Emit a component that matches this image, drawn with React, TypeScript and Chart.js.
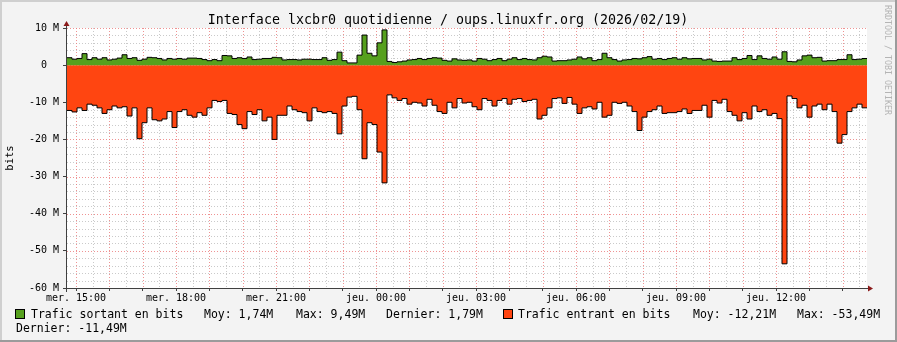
import React, { useEffect, useRef } from 'react';
import { Chart, registerables } from 'chart.js';

Chart.register(...registerables);

// Outgoing traffic (M bits), one value per 9-minute step starting at mer. 14:44
const outgoing: number[] = [
  2.0, 1.6, 1.8, 3.1, 1.5, 2.0, 1.6, 2.0, 1.4, 1.6, 1.9, 2.8, 1.8, 2.0, 1.3, 1.6,
  2.1, 2.0, 1.8, 1.4, 1.8, 1.6, 1.8, 1.6, 1.9, 1.9, 1.8, 1.5, 1.2, 1.5, 1.2, 2.6,
  2.5, 1.8, 2.0, 1.8, 2.2, 1.5, 1.6, 1.8, 1.8, 2.1, 2.0, 1.4, 1.5, 1.5, 1.4, 1.6,
  1.6, 1.5, 1.5, 2.0, 1.3, 1.5, 3.5, 1.2, 0.6, 0.6, 2.7, 8.1, 3.2, 2.5, 6.0, 9.49,
  1.0, 0.7, 0.9, 1.1, 1.4, 1.5, 1.8, 1.5, 1.8, 2.0, 1.9, 1.3, 1.1, 1.7, 1.4, 1.3,
  1.4, 1.1, 1.8, 1.6, 1.2, 1.5, 1.8, 1.2, 1.6, 2.0, 1.5, 1.8, 1.5, 1.4, 2.0, 2.4,
  2.2, 1.1, 1.2, 1.2, 1.4, 1.6, 2.2, 1.7, 2.0, 1.2, 1.5, 3.2, 2.0, 1.5, 1.1, 1.4,
  1.5, 1.8, 1.7, 2.0, 2.3, 1.6, 1.8, 1.5, 1.8, 2.0, 1.6, 2.0, 1.7, 1.8, 1.8, 1.4,
  1.6, 1.1, 1.0, 1.1, 1.1, 2.0, 1.5, 1.8, 2.6, 1.5, 2.5, 1.8, 1.6, 2.2, 1.6, 3.6,
  1.0, 0.9, 1.4, 2.5, 2.7, 2.0, 2.1, 1.1, 1.2, 1.2, 1.5, 1.5, 2.8, 1.5, 1.6, 1.79,
];

// Incoming traffic (M bits, drawn negative)
const incoming: number[] = [
  -12.2, -12.6, -11.5, -12.2, -10.5, -10.8, -11.5, -13.0, -12.0, -11.0, -11.5, -11.2, -13.7, -11.5, -19.8, -15.5,
  -11.5, -14.7, -15.0, -14.5, -12.5, -16.8, -12.5, -12.0, -13.5, -14.0, -12.8, -13.5, -11.5, -9.5, -9.8, -9.5,
  -13.0, -13.3, -16.0, -17.1, -12.5, -13.3, -12.0, -15.0, -14.0, -20.0, -13.5, -13.5, -11.0, -12.0, -12.5, -12.8,
  -15.0, -11.5, -12.5, -12.8, -12.5, -13.0, -18.5, -11.0, -8.6, -8.4, -12.0, -25.2, -15.5, -16.0, -23.4, -31.7,
  -8.0, -8.8, -9.5, -9.0, -10.5, -10.0, -10.2, -11.0, -9.2, -10.8, -12.5, -13.0, -10.0, -11.5, -9.0, -10.2,
  -10.0, -11.2, -12.0, -9.0, -9.5, -11.0, -9.5, -9.0, -10.5, -9.2, -9.0, -9.8, -9.5, -9.2, -14.5, -13.5,
  -11.5, -9.0, -8.8, -10.3, -8.7, -10.5, -13.0, -11.5, -11.2, -11.8, -10.0, -14.0, -13.5, -10.0, -10.3, -10.0,
  -11.0, -12.5, -17.6, -14.0, -12.5, -12.0, -11.0, -13.0, -12.8, -12.8, -12.5, -11.8, -13.0, -12.2, -12.2, -10.8,
  -14.0, -9.5, -10.2, -9.2, -12.5, -13.5, -15.0, -12.8, -14.5, -11.0, -12.5, -12.0, -13.5, -13.0, -14.4, -53.49,
  -8.3, -9.0, -11.5, -10.8, -14.0, -11.0, -10.5, -12.0, -10.5, -12.5, -21.0, -18.7, -12.5, -11.5, -10.5, -11.49,
];

const xTickLabels = ['mer. 15:00', 'mer. 18:00', 'mer. 21:00', 'jeu. 00:00', 'jeu. 03:00', 'jeu. 06:00', 'jeu. 09:00', 'jeu. 12:00'];
const yTickValues = [10, 0, -10, -20, -30, -40, -50, -60];
const START_HOUR = -0.27; // hours relative to mer. 15:00
const STEP_HOURS = 0.15;

const TITLE = 'Interface lxcbr0 quotidienne / oups.linuxfr.org (2026/02/19)';
const Y_TITLE = 'bits';
const WATERMARK = 'RRDTOOL / TOBI OETIKER';
const outLegend = ['Trafic sortant en bits', 'Moy: 1,74M', 'Max: 9,49M', 'Dernier: 1,79M'];
const inLegend = ['Trafic entrant en bits', 'Moy: -12,21M', 'Max: -53,49M', 'Dernier: -11,49M'];

const GREEN = '#56a01e';
const RED = '#ff4511';
const MONO = '"DejaVu Sans Mono", monospace';

function toPoints(arr: number[]) {
  const pts = arr.map((v, i) => ({ x: START_HOUR + i * STEP_HOURS, y: v }));
  pts.push({ x: START_HOUR + arr.length * STEP_HOURS, y: arr[arr.length - 1] });
  return pts;
}

const rrdPlugin = {
  id: 'rrdLook',
  beforeDraw(chart: any) {
    const { ctx, width, height, chartArea: a } = chart;
    ctx.save();
    ctx.fillStyle = '#f3f3f3';
    ctx.fillRect(0, 0, width, height);
    ctx.fillStyle = '#cfcfcf';
    ctx.fillRect(0, 0, width, 2);
    ctx.fillRect(0, 0, 2, height);
    ctx.fillStyle = '#9b9b9b';
    ctx.fillRect(0, height - 2, width, 2);
    ctx.fillRect(width - 2, 0, 2, height);
    ctx.fillStyle = '#ffffff';
    ctx.fillRect(a.left, a.top, a.right - a.left, a.bottom - a.top);
    ctx.restore();
  },
  beforeDatasetsDraw(chart: any) {
    const { ctx, chartArea: a, scales } = chart;
    const xs = scales.x;
    const ys = scales.y;
    ctx.save();
    ctx.lineWidth = 1;
    ctx.setLineDash([1, 2]);
    for (let v = -60; v <= 10; v += 2) {
      const y = Math.round(ys.getPixelForValue(v)) + 0.5;
      ctx.strokeStyle = v % 10 === 0 ? 'rgba(235,120,120,0.8)' : 'rgba(180,180,180,0.7)';
      ctx.beginPath();
      ctx.moveTo(a.left, y);
      ctx.lineTo(a.right, y);
      ctx.stroke();
    }
    for (let h = 0; h <= 24; h += 0.5) {
      const px = xs.getPixelForValue(h);
      if (px < a.left || px > a.right) continue;
      const x = Math.round(px) + 0.5;
      ctx.strokeStyle = h % 1 === 0 ? 'rgba(235,120,120,0.8)' : 'rgba(180,180,180,0.7)';
      ctx.beginPath();
      ctx.moveTo(x, a.top);
      ctx.lineTo(x, a.bottom);
      ctx.stroke();
    }
    ctx.restore();
  },
  afterDatasetsDraw(chart: any) {
    const { ctx, chartArea: a } = chart;
    ctx.save();
    ctx.strokeStyle = '#404040';
    ctx.lineWidth = 1;
    const ax = a.left - 0.5;
    const ay = a.bottom + 0.5;
    ctx.beginPath();
    ctx.moveTo(a.left - 4, ay);
    ctx.lineTo(a.right + 2, ay);
    ctx.moveTo(ax, a.bottom + 4);
    ctx.lineTo(ax, a.top - 4);
    ctx.stroke();
    ctx.fillStyle = '#8b1a1a';
    ctx.beginPath();
    ctx.moveTo(ax, a.top - 7);
    ctx.lineTo(ax - 3, a.top - 2);
    ctx.lineTo(ax + 3, a.top - 2);
    ctx.closePath();
    ctx.fill();
    ctx.beginPath();
    ctx.moveTo(a.right + 6, ay);
    ctx.lineTo(a.right + 1, ay - 3);
    ctx.lineTo(a.right + 1, ay + 3);
    ctx.closePath();
    ctx.fill();
    ctx.restore();
  },
  afterDraw(chart: any) {
    const { ctx } = chart;
    ctx.save();
    ctx.fillStyle = '#000';
    ctx.textBaseline = 'alphabetic';
    ctx.textAlign = 'center';
    ctx.font = `13.3px ${MONO}`;
    ctx.fillText(TITLE, 448, 24);

    ctx.textAlign = 'left';
    ctx.font = `11.5px ${MONO}`;
    const y1 = 318;
    const y2 = 332;
    ctx.fillStyle = GREEN;
    ctx.fillRect(15, 309, 10, 10);
    ctx.strokeStyle = '#000';
    ctx.lineWidth = 1;
    ctx.strokeRect(15.5, 309.5, 9, 9);
    ctx.fillStyle = RED;
    ctx.fillRect(503, 309, 10, 10);
    ctx.strokeRect(503.5, 309.5, 9, 9);

    ctx.fillStyle = '#000';
    ctx.fillText(outLegend[0], 31, y1);
    ctx.fillText(outLegend[1], 204, y1);
    ctx.fillText(outLegend[2], 296, y1);
    ctx.fillText(outLegend[3], 386, y1);
    ctx.fillText(inLegend[0], 518, y1);
    ctx.fillText(inLegend[1], 693, y1);
    ctx.fillText(inLegend[2], 797, y1);
    ctx.fillText(inLegend[3], 16, y2);

    ctx.fillStyle = '#b4b4b4';
    ctx.font = `8.3px ${MONO}`;
    ctx.translate(887.5, 5);
    ctx.rotate(Math.PI / 2);
    ctx.textBaseline = 'middle';
    ctx.fillText(WATERMARK, 0, 0);
    ctx.restore();
  },
};

export default function App() {
  const ref = useRef<HTMLCanvasElement | null>(null);

  useEffect(() => {
    document.body.style.margin = '0';
    const canvas = ref.current;
    if (!canvas) return;
    const chart = new Chart(canvas, {
      type: 'line',
      data: {
        datasets: [
          {
            label: outLegend[0],
            data: toPoints(outgoing),
            stepped: 'before',
            fill: 'origin',
            backgroundColor: GREEN,
            borderColor: '#000',
            borderWidth: 1,
            pointRadius: 0,
          },
          {
            label: inLegend[0],
            data: toPoints(incoming),
            stepped: 'before',
            fill: 'origin',
            backgroundColor: RED,
            borderColor: '#000',
            borderWidth: 1,
            pointRadius: 0,
          },
        ],
      },
      options: {
        responsive: false,
        animation: false,
        devicePixelRatio: 1,
        parsing: false as any,
        layout: { padding: { top: 28, right: 30, left: 0, bottom: 0 } },
        plugins: { legend: { display: false }, tooltip: { enabled: false }, title: { display: false } },
        scales: {
          x: {
            type: 'linear',
            min: START_HOUR,
            max: START_HOUR + outgoing.length * STEP_HOURS,
            border: { display: false },
            grid: { drawOnChartArea: false, drawTicks: true, tickLength: 3, tickColor: '#404040', color: 'rgba(0,0,0,0)' },
            ticks: {
              autoSkip: false,
              maxRotation: 0,
              minRotation: 0,
              padding: 1,
              color: '#000',
              font: { family: MONO, size: 10 },
              callback: (v: any) => (Number(v) % 3 === 0 ? xTickLabels[Number(v) / 3] : ''),
            },
            afterBuildTicks: (scale: any) => {
              const t = [];
              for (let h = 0; h < 24; h++) t.push({ value: h });
              scale.ticks = t;
            },
            afterFit: (scale: any) => {
              scale.height = 54;
            },
          },
          y: {
            type: 'linear',
            min: -60,
            max: 10,
            border: { display: false },
            grid: { drawOnChartArea: false, drawTicks: true, tickLength: 4, tickColor: '#404040', color: 'rgba(0,0,0,0)' },
            ticks: {
              padding: 4,
              color: '#000',
              font: { family: MONO, size: 10 },
              callback: (v: any) => (Number(v) === 0 ? '0  ' : `${v} M`),
            },
            title: { display: true, text: Y_TITLE, color: '#000', font: { family: MONO, size: 10.5 }, padding: { top: 4, bottom: 0 } },
            afterBuildTicks: (scale: any) => {
              scale.ticks = yTickValues.map((v) => ({ value: v }));
            },
            afterFit: (scale: any) => {
              scale.width = 67;
            },
          },
        },
      } as any,
      plugins: [rrdPlugin],
    });
    return () => chart.destroy();
  }, []);

  return (
    <div style={{ width: 897, height: 342 }}>
      <canvas ref={ref} width={897} height={342} style={{ display: 'block', width: 897, height: 342 }} />
    </div>
  );
}
